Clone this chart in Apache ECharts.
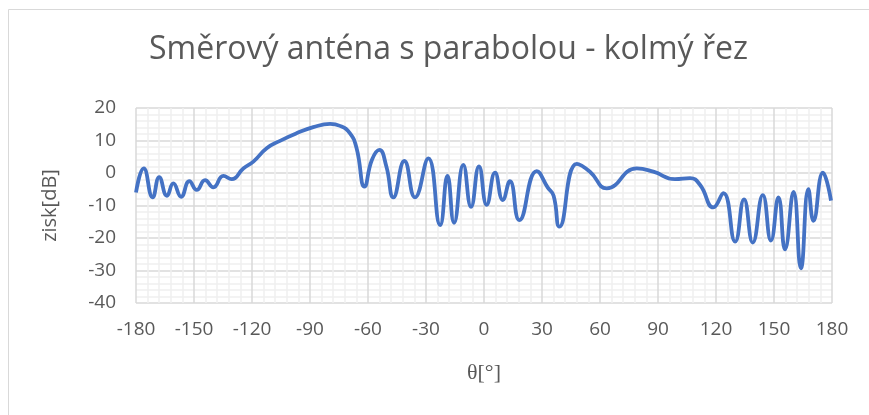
<!DOCTYPE html>
<html>
<head>
<meta charset="utf-8">
<script src="https://cdn.jsdelivr.net/npm/echarts@6/dist/echarts.min.js"></script>
<style>
html,body{margin:0;padding:0;background:#fff;}
#chart{width:869px;height:415px;}
</style>
</head>
<body>
<div id="chart"></div>
<script>
const titleText = 'Směrový anténa s parabolou - kolmý řez';
const xName = 'θ[°]';
const yName = 'zisk[dB]';
const theta = [-180,-176,-171.4,-168,-164,-160.7,-156.7,-152.4,-148.6,-144.3,-140,-134.8,-130.5,-124.5,-119.3,-112.4,-105.5,-97,-88.3,-79.6,-74.5,-69.3,-65.9,-61.8,-58,-54.1,-50.5,-46.9,-41.2,-35.7,-28.8,-22.7,-18.9,-15.5,-10.7,-6.7,-2.6,1.4,5.7,9.7,13.4,18.3,27.3,33,36,39,48,54.8,63.5,79,87.6,98.8,106.6,111.8,118.6,123.8,129.9,134.5,139,144.2,148.4,152.3,155.7,160.1,163.9,167.8,170.4,175.3,179.5];
const gain = [-6,1.4,-7.5,-1.3,-7,-3.2,-7.3,-2.5,-5.2,-2.2,-4.4,-0.9,-1.9,1.4,3.5,7.6,9.9,12.2,14.1,15.1,14.5,12.2,7.6,-4.2,4,7.1,2,-7.5,3.7,-7.5,4.5,-16,-0.9,-15.3,2.5,-10.4,2.0,-9.8,0.1,-8.3,-2.5,-14.5,0.6,-4.5,-7,-16.5,2.8,0.4,-4.7,1.4,0.4,-1.9,-1.6,-3.7,-10.6,-6.2,-21.1,-8.1,-21.4,-6.8,-20.8,-7.5,-23.5,-5.8,-29.3,-5,-14.7,0.1,-8.5];
const xTicks = {min:-180, max:180, interval:30};
const yTicks = {min:-40, max:20, interval:10};

const chart = echarts.init(document.getElementById('chart'), null, {renderer:'canvas'});
const font = '"Open Sans", "Noto Sans", sans-serif';
chart.setOption({
  animation:false,
  backgroundColor:'#fff',
  graphic:[{type:'rect', shape:{x:8.5,y:9.5,width:900,height:500}, style:{fill:'none',stroke:'#d9d9d9',lineWidth:1}, silent:true}],
  title:{text:titleText,left:144,top:29,textStyle:{fontFamily:font,fontSize:32,fontWeight:'normal',color:'#595959'}},
  grid:{left:136,right:37,top:108,bottom:112},
  xAxis:{type:'value',min:xTicks.min,max:xTicks.max,interval:xTicks.interval,
    name:xName,nameLocation:'middle',nameGap:59,nameTextStyle:{fontFamily:'"Liberation Serif", "DejaVu Serif", serif',fontSize:22,color:'#595959'},
    axisLine:{show:false},axisTick:{show:false},
    axisLabel:{fontFamily:font,fontSize:19,color:'#595959',margin:17},
    splitLine:{show:true,lineStyle:{color:'#d9d9d9',width:1.5}},
    minorTick:{show:false,splitNumber:5},
    minorSplitLine:{show:true,lineStyle:{color:'#f0f0f0',width:1.5}}},
  yAxis:{type:'value',min:yTicks.min,max:yTicks.max,interval:yTicks.interval,
    name:yName,nameLocation:'middle',nameGap:76,nameTextStyle:{fontFamily:font,fontSize:20,color:'#595959'},
    axisLine:{show:false},axisTick:{show:false},
    axisLabel:{fontFamily:font,fontSize:19,color:'#595959',margin:20},
    splitLine:{show:true,lineStyle:{color:'#d9d9d9',width:1.5}},
    minorTick:{show:false,splitNumber:5},
    minorSplitLine:{show:true,lineStyle:{color:'#f0f0f0',width:1.5}}},
  series:[{type:'line',data:theta.map((t,i)=>[t,gain[i]]),showSymbol:false,smooth:0.5,
    lineStyle:{color:'#4472C4',width:3.8},itemStyle:{color:'#4472C4'}}]
});
</script>
</body>
</html>
